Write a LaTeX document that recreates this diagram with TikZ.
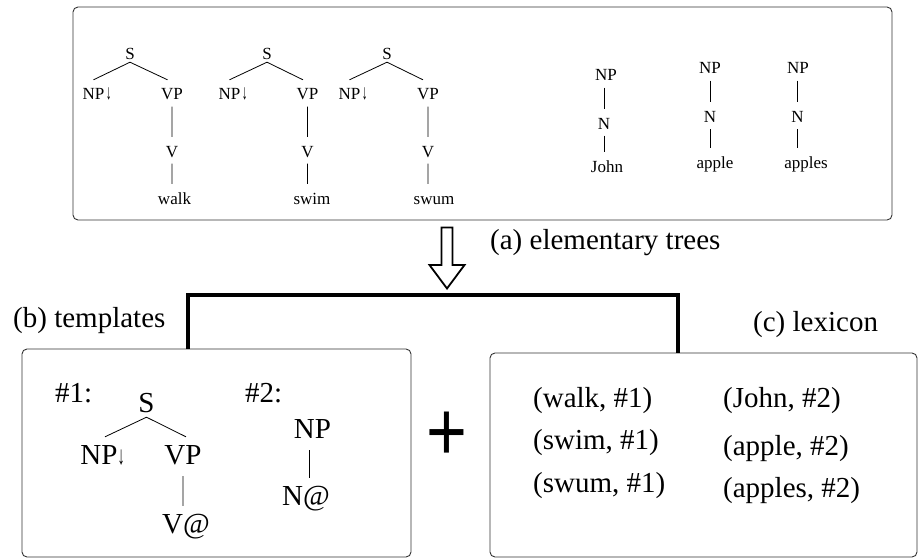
\documentclass[tikz,border=0pt]{standalone}
\usepackage{fontspec}
\setmainfont{Liberation Serif}
\newfontfamily\plusfont{Liberation Sans}
\tikzset{
  panel/.style={draw=black!80, line width=0.9pt, rounded corners=5pt, inner sep=0pt},
  tt/.style={font=\fontsize{17}{20}\selectfont, inner sep=0pt, text height=20pt, text depth=6.5pt, anchor=base},
  ttroot/.style={tt, text depth=2pt},
  lt/.style={font=\fontsize{29}{34}\selectfont, inner sep=0pt, text height=27pt, text depth=12pt, anchor=base},
  ltroot/.style={lt, text depth=5pt},
  lbl/.style={font=\fontsize{29}{34}\selectfont, inner sep=0pt, anchor=base west},
  branch/.style={line width=0.8pt},
  bracket/.style={line width=4pt, line join=miter},
  hollowarrow/.style={line width=1.8pt, line join=miter},
}
% substitution marker after a node label, taking no width
\newcommand{\subst}[2]{\rlap{\hspace{#1}{\fontsize{#2}{#2}\selectfont\scalebox{0.55}[1]{↓}}}}
\begin{document}
\begin{tikzpicture}[x=1pt, y=-1pt]
\useasboundingbox (0,0) rectangle (920,559);

% frames
\node[panel, minimum width=819pt, minimum height=213pt] (etbox) at (482.5,113.5) {};
\node[panel, minimum width=389pt, minimum height=208pt] (tbox) at (216.5,453) {};
\node[panel, minimum width=427pt, minimum height=204pt] (lbox) at (703.5,455) {};

% elementary trees: S -> NP VP, VP -> V -> word
\node[ttroot] (s1) at (130,60) {S};
\node[tt] (np1) at (93.5,100) {NP\subst{1.5pt}{21}};
\node[tt] (vp1) at (172,100) {VP};
\node[tt] (v1) at (172,157) {V};
\node[tt] (w1) at (174.5,204) {walk};
\draw[branch] (s1.south) -- (np1.north) (s1.south) -- ([xshift=-4.5pt]vp1.north)
  (vp1.south) -- (v1.north) (v1.south) -- (v1.south |- w1.north);

\node[ttroot] (s2) at (267,60) {S};
\node[tt] (np2) at (229.5,100) {NP\subst{1.5pt}{21}};
\node[tt] (vp2) at (307.5,100) {VP};
\node[tt] (v2) at (307.5,157) {V};
\node[tt] (w2) at (312,204) {swim};
\draw[branch] (s2.south) -- (np2.north) (s2.south) -- ([xshift=-4.5pt]vp2.north)
  (vp2.south) -- (v2.north) (v2.south) -- (v2.south |- w2.north);

\node[ttroot] (s3) at (387,60) {S};
\node[tt] (np3) at (349.5,100) {NP\subst{1.5pt}{21}};
\node[tt] (vp3) at (428,100) {VP};
\node[tt] (v3) at (428,157) {V};
\node[tt] (w3) at (434,204) {swum};
\draw[branch] (s3.south) -- (np3.north) (s3.south) -- ([xshift=-5pt]vp3.north)
  (vp3.south) -- (v3.north) (v3.south) -- (v3.south |- w3.north);

% elementary trees: NP -> N -> word
\node[tt] (np4) at (606,81) {NP};
\node[tt] (n4) at (604,129) {N};
\node[tt] (w4) at (607,172) {John};
\draw[branch] (n4.north |- np4.south) -- (n4.north) (n4.south) -- (n4.south |- w4.north);

\node[tt] (np5) at (710,74) {NP};
\node[tt] (n5) at (710,122.5) {N};
\node[tt] (w5) at (715,168) {apple};
\draw[branch] (np5.south) -- (n5.north) (n5.south) -- (n5.south |- w5.north);

\node[tt] (np6) at (798,74) {NP};
\node[tt] (n6) at (797.5,122.5) {N};
\node[tt] (w6) at (806,168) {apples};
\draw[branch] (n6.north |- np6.south) -- (n6.north) (n6.south) -- (n6.south |- w6.north);

% hollow arrow and bracket
\draw[hollowarrow] (441.5,227.5) -- (452.5,227.5) -- (452.5,265) -- (464.5,265)
  -- (447,288.5) -- (429.5,265) -- (441.5,265) -- cycle;
\coordinate (bl) at (188,295);
\coordinate (br) at (678,295);
\draw[bracket] (tbox.north -| bl) -- (bl) -- (br) -- (lbox.north -| br);

% captions
\node[lbl] (capa) at (490,249) {(a) elementary trees};
\node[lbl] (capb) at (13,327) {(b) templates};
\node[lbl] (capc) at (753,331) {(c) lexicon};

% templates
\node[lbl] (h1) at (55,402) {\#1:};
\node[ltroot] (ts) at (146.5,412) {S};
\node[lt] (tnp) at (99,464) {NP\subst{0pt}{26}};
\node[lt] (tvp) at (183,464) {VP};
\node[lt] (tv) at (186,533) {V@};
\draw[branch] (ts.south) -- ([xshift=6pt]tnp.north) (ts.south) -- ([xshift=3pt]tvp.north)
  (tvp.south) -- (tvp.south |- tv.north);

\node[lbl] (h2) at (245,402) {\#2:};
\node[lt] (tnp2) at (312.5,438) {NP};
\node[lt] (tn2) at (306,505) {N@};
\draw[branch] ([xshift=-3.5pt]tnp2.south) -- ([xshift=-3.5pt]tnp2.south |- tn2.north);

% plus sign
\node[font=\fontsize{70}{70}\selectfont\plusfont, inner sep=0pt] (plus) at (447,436.5) {\scalebox{1}[1.2]{+}};

% lexicon
\node[lbl] (l1) at (533,407) {(walk, \#1)};
\node[lbl] (l2) at (533,449) {(swim, \#1)};
\node[lbl] (l3) at (533,492) {(swum, \#1)};
\node[lbl] (r1) at (723,407) {(John, \#2)};
\node[lbl] (r2) at (723,455) {(apple, \#2)};
\node[lbl] (r3) at (723,497) {(apples, \#2)};
\end{tikzpicture}
\end{document}
